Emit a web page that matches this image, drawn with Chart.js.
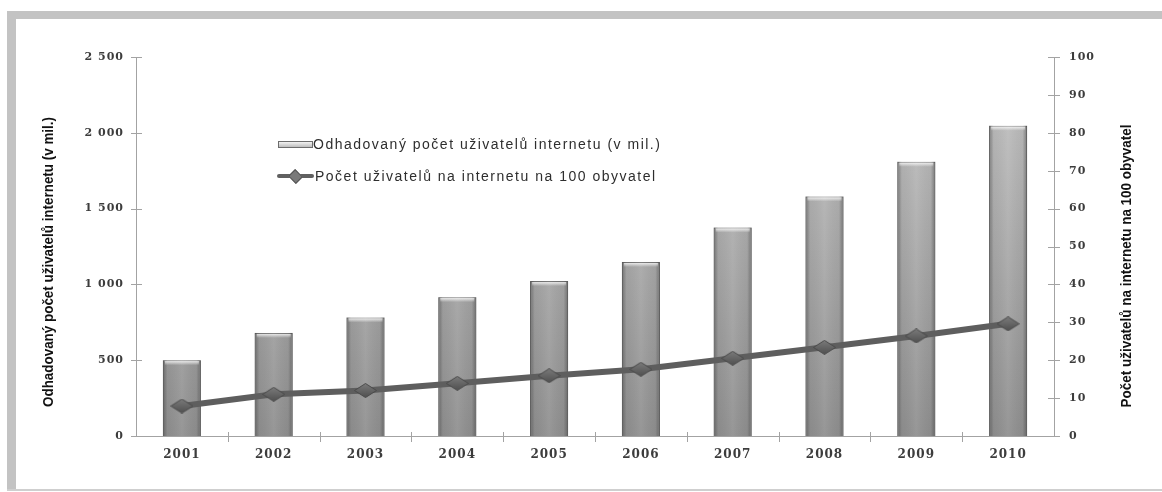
<!DOCTYPE html>
<html>
<head>
<meta charset="utf-8">
<title>Uživatelé internetu 2001–2010</title>
<script src="https://cdn.jsdelivr.net/npm/chart.js@4.4.1/dist/chart.umd.min.js"></script>
<style>
  html, body { margin: 0; padding: 0; background: #fff; }
  #wrap { position: relative; width: 1162px; height: 492px; overflow: hidden; }
  .frame { position: absolute; background: #c3c3c3; }
  #frameTop    { left: 7px; top: 11px; width: 1155px; height: 8px; }
  #frameLeft   { left: 7px; top: 11px; width: 9px;  height: 480px; }
  #frameBottom { left: 7px; top: 489px; width: 1155px; height: 2px; background: #cfcfcf; }
  canvas { position: absolute; left: 0; top: 0; }
  .lg-text {
    position: absolute;
    font-family: 'Liberation Sans', Arial, sans-serif;
    font-size: 14px;
    line-height: 16px;
    letter-spacing: 1.5px;
    color: #2e2e2e;
    white-space: nowrap;
  }
  #lgBar {
    position: absolute; left: 278px; top: 141px; width: 33px; height: 5px;
    border: 1px solid #6c6c6c;
    background: linear-gradient(#f2f2f2, #bdbdbd);
  }
  #lgLine {
    position: absolute; left: 277px; top: 174px; width: 37px; height: 4px;
    background: #606060; border-radius: 2px;
  }
  #lgDiamond {
    position: absolute; left: 290px; top: 171px; width: 9px; height: 9px;
    background: #7a7a7a; border: 1px solid #555;
    transform: rotate(45deg) scaleY(0.9);
  }
</style>
</head>
<body>
<div id="wrap">
  <div class="frame" id="frameTop"></div>
  <div class="frame" id="frameLeft"></div>
  <div class="frame" id="frameBottom"></div>
  <canvas id="internetChart" width="1162" height="492"></canvas>
  <div id="lgBar"></div>
  <div class="lg-text" id="lgText1" style="left:313px; top:136px;"></div>
  <div id="lgLine"></div>
  <div id="lgDiamond"></div>
  <div class="lg-text" id="lgText2" style="left:315px; top:168px;"></div>
</div>

<script>
'use strict';

// ── data ────────────────────────────────────────────────
const YEARS = ['2001', '2002', '2003', '2004', '2005', '2006', '2007', '2008', '2009', '2010'];
// estimated internet users (millions), left axis
const USERS_MIL = [500, 680, 782, 916, 1022, 1148, 1375, 1580, 1809, 2047];
// internet users per 100 inhabitants, right axis
const USERS_PER_100 = [7.9, 11.0, 12.0, 13.9, 15.9, 17.6, 20.5, 23.4, 26.4, 29.6];

const LABEL_BARS  = 'Odhadovaný počet uživatelů internetu (v mil.)';
const LABEL_LINE  = 'Počet uživatelů na internetu na 100 obyvatel';
const TITLE_LEFT  = 'Odhadovaný počet uživatelů internetu (v mil.)';
const TITLE_RIGHT = 'Počet uživatelů na internetu na 100 obyvatel';

const LEFT_MAX = 2500, LEFT_STEP = 500;
const RIGHT_MAX = 100, RIGHT_STEP = 10;

document.getElementById('lgText1').textContent = LABEL_BARS;
document.getElementById('lgText2').textContent = LABEL_LINE;

const AXIS_COLOR = '#a3a3a3';
const TICK_COLOR = '#3c3c3c';
const TICK_FONT  = { family: "'DejaVu Serif', 'Liberation Serif', serif", size: 11, weight: 'bold' };

// thousands separated by a space: 2500 -> "2 500"
const fmtThousands = (v) => String(v).replace(/\B(?=(\d{3})+(?!\d))/g, ' ');

// flattened diamond marker (wider than tall), used as pointStyle
function makeDiamond(w, h) {
  const c = document.createElement('canvas');
  c.width = w; c.height = h;
  const g = c.getContext('2d');
  const grad = g.createLinearGradient(0, 0, 0, h);
  grad.addColorStop(0, '#7c7c7c');
  grad.addColorStop(1, '#4e4e4e');
  g.beginPath();
  g.moveTo(w / 2, 0.5); g.lineTo(w - 0.5, h / 2);
  g.lineTo(w / 2, h - 0.5); g.lineTo(0.5, h / 2);
  g.closePath();
  g.fillStyle = grad;
  g.fill();
  g.strokeStyle = '#4a4a4a';
  g.lineWidth = 1;
  g.stroke();
  return c;
}
const DIAMOND = makeDiamond(23, 15);

/* ═══════════════════════════════════════════════════════════
 *  Plugins: letter spacing, bar shading, crossing ticks, titles
 * ═══════════════════════════════════════════════════════════ */
const spacingPlugin = {
  id: 'spacing',
  beforeDraw(chart) { chart.ctx.letterSpacing = '1px'; },
};

const barShadePlugin = {
  id: 'barShade',
  afterDatasetDraw(chart, args) {
    if (args.meta.type !== 'bar') return;
    const ctx = chart.ctx;
    ctx.save();
    args.meta.data.forEach((bar) => {
      const w = bar.width, left = bar.x - w / 2, top = bar.y, h = bar.base - bar.y;
      // darker edges left / right
      const g = ctx.createLinearGradient(left, 0, left + w, 0);
      g.addColorStop(0,    'rgba(60,60,60,0.5)');
      g.addColorStop(0.12, 'rgba(60,60,60,0.05)');
      g.addColorStop(0.5,  'rgba(255,255,255,0.08)');
      g.addColorStop(0.88, 'rgba(60,60,60,0.05)');
      g.addColorStop(1,    'rgba(60,60,60,0.5)');
      ctx.fillStyle = g;
      ctx.fillRect(left, top, w, h);
      // light bevel at the top
      const t = ctx.createLinearGradient(0, top, 0, top + 5);
      t.addColorStop(0, 'rgba(255,255,255,0.95)');
      t.addColorStop(1, 'rgba(255,255,255,0)');
      ctx.fillStyle = t;
      ctx.fillRect(left + 2, top + 1, w - 4, 5);
    });
    ctx.restore();
  },
};

const crossTicksPlugin = {
  id: 'crossTicks',
  afterDraw(chart) {
    const { ctx, scales } = chart;
    ctx.save();
    ctx.strokeStyle = AXIS_COLOR;
    ctx.lineWidth = 1;
    ctx.beginPath();
    const yL = scales.y, yR = scales.y1, x = scales.x;
    yL.ticks.forEach((t) => {
      const py = Math.round(yL.getPixelForValue(t.value)) + 0.5;
      ctx.moveTo(yL.right - 5, py); ctx.lineTo(yL.right + 6, py);
    });
    yR.ticks.forEach((t) => {
      const py = Math.round(yR.getPixelForValue(t.value)) + 0.5;
      ctx.moveTo(yR.left - 6, py); ctx.lineTo(yR.left + 6, py);
    });
    for (let i = 1; i < YEARS.length; i++) {
      const px = Math.round((x.getPixelForValue(i - 1) + x.getPixelForValue(i)) / 2) + 0.5;
      ctx.moveTo(px, x.top - 4); ctx.lineTo(px, x.top + 6);
    }
    ctx.stroke();
    ctx.restore();
  },
};

const axisTitlesPlugin = {
  id: 'axisTitles',
  afterDraw(chart) {
    const ctx = chart.ctx;
    const drawTitle = (text, cx, cy, maxW) => {
      ctx.save();
      ctx.letterSpacing = '0px';
      ctx.fillStyle = '#111';
      ctx.font = "bold 15px 'Liberation Sans Narrow', 'Liberation Sans', Arial, sans-serif";
      ctx.textAlign = 'center';
      ctx.textBaseline = 'middle';
      ctx.translate(cx, cy);
      ctx.rotate(-Math.PI / 2);
      ctx.fillText(text, 0, 0, maxW);
      ctx.restore();
    };
    drawTitle(TITLE_LEFT, 49, 262, 290);
    drawTitle(TITLE_RIGHT, 1127, 266, 283);
  },
};

/* ═══════════════════════════════════════════════════════════
 *  Chart
 * ═══════════════════════════════════════════════════════════ */
const canvas = document.getElementById('internetChart');
const ctx0 = canvas.getContext('2d');
const barFill = ctx0.createLinearGradient(0, 57, 0, 436);
barFill.addColorStop(0, '#c4c4c4');
barFill.addColorStop(1, '#8e8e8e');

new Chart(canvas, {
  data: {
    labels: YEARS,
    datasets: [
      {
        type: 'line',
        label: LABEL_LINE,
        data: USERS_PER_100,
        yAxisID: 'y1',
        order: 0,
        borderColor: '#5e5e5e',
        borderWidth: 6,
        tension: 0,
        pointStyle: DIAMOND,
      },
      {
        type: 'bar',
        label: LABEL_BARS,
        data: USERS_MIL,
        yAxisID: 'y',
        order: 1,
        backgroundColor: barFill,
        borderColor: '#6f6f6f',
        borderWidth: 1,
        categoryPercentage: 1,
        barPercentage: 0.414,
      },
    ],
  },
  options: {
    responsive: false,
    animation: false,
    layout: { padding: { left: 20, right: 20, top: 57, bottom: 20 } },
    plugins: {
      legend: { display: false },
      tooltip: { enabled: false },
    },
    scales: {
      x: {
        grid: { display: false, drawTicks: false },
        border: { display: true, color: AXIS_COLOR },
        ticks: { color: TICK_COLOR, font: { ...TICK_FONT, size: 12 }, padding: 12 },
        afterFit: (s) => { s.height = 36; },
      },
      y: {
        position: 'left',
        min: 0, max: LEFT_MAX,
        grid: { display: false, drawTicks: false },
        border: { display: true, color: AXIS_COLOR },
        ticks: {
          stepSize: LEFT_STEP, color: TICK_COLOR, font: TICK_FONT, padding: 12,
          callback: (v) => fmtThousands(v),
        },
        afterFit: (s) => { s.width = 116; },
      },
      y1: {
        position: 'right',
        min: 0, max: RIGHT_MAX,
        grid: { display: false, drawTicks: false },
        border: { display: true, color: AXIS_COLOR },
        ticks: { stepSize: RIGHT_STEP, color: TICK_COLOR, font: TICK_FONT, padding: 15 },
        afterFit: (s) => { s.width = 88; },
      },
    },
  },
  plugins: [spacingPlugin, barShadePlugin, crossTicksPlugin, axisTitlesPlugin],
});
</script>
</body>
</html>
